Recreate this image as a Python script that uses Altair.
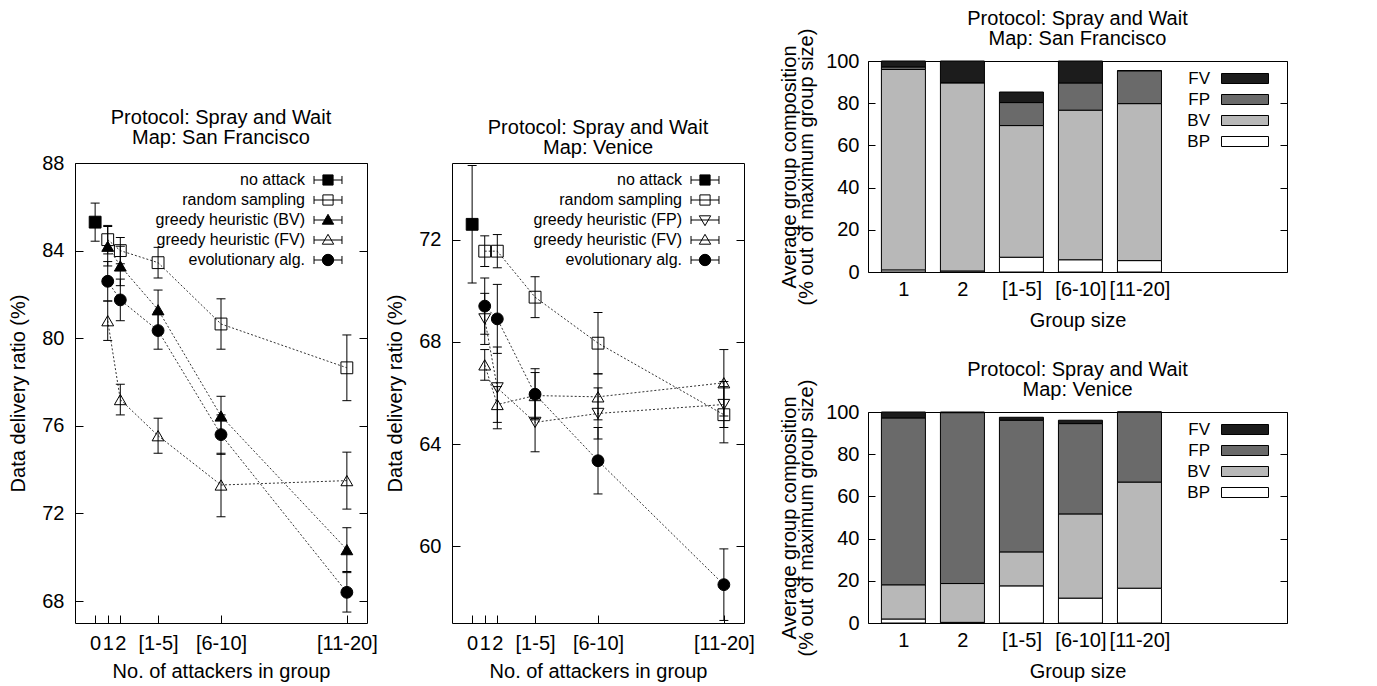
import json
import altair as alt
import pandas as pd

FONT = "Liberation Sans"

# ---------------- line charts: data ----------------
x_pos = [0, 1, 2, 5, 10, 20]
x_labels = ["0", "1", "2", "[1-5]", "[6-10]", "[11-20]"]
no_attack_x = [0]
attack_x = [1, 2, 5, 10, 20]

sf_names = ["no attack", "random sampling", "greedy heuristic (BV)",
            "greedy heuristic (FV)", "evolutionary alg."]
sf_shapes = ["square", "square", "triangle-up", "triangle-up", "circle"]
sf_fills = ["black", "transparent", "black", "transparent", "black"]
sf_no_attack = [85.3]
sf_no_attack_err = [0.87]
sf_random = [84.5, 84.0, 83.45, 80.65, 78.65]
sf_random_err = [0.65, 0.6, 0.7, 1.15, 1.5]
sf_greedy_bv = [84.2, 83.3, 81.3, 76.45, 70.35]
sf_greedy_bv_err = [0.9, 0.9, 0.9, 0.9, 1.0]
sf_greedy_fv = [80.8, 77.2, 75.55, 73.3, 73.5]
sf_greedy_fv_err = [0.9, 0.7, 0.8, 1.45, 1.3]
sf_evo = [82.6, 81.75, 80.35, 75.6, 68.4]
sf_evo_err = [0.9, 0.95, 0.85, 0.9, 0.9]
sf_y_ticks = [68, 72, 76, 80, 84, 88]

ve_names = ["no attack", "random sampling", "greedy heuristic (FP)",
            "greedy heuristic (FV)", "evolutionary alg."]
ve_shapes = ["square", "square", "triangle-down", "triangle-up", "circle"]
ve_fills = ["black", "transparent", "transparent", "transparent", "black"]
ve_no_attack = [72.6]
ve_no_attack_err = [2.3]
ve_random = [71.55, 71.55, 69.75, 67.95, 65.15]
ve_random_err = [0.6, 0.65, 0.8, 1.2, 1.1]
ve_greedy_fp = [68.9, 66.2, 64.85, 65.2, 65.55]
ve_greedy_fp_err = [1.0, 1.6, 1.15, 1.0, 0.9]
ve_greedy_fv = [67.1, 65.55, 65.9, 65.85, 66.4]
ve_greedy_fv_err = [0.6, 0.7, 0.9, 0.9, 1.3]
ve_evo = [69.4, 68.9, 65.95, 63.35, 58.5]
ve_evo_err = [1.1, 1.35, 1.0, 1.3, 1.4]
ve_y_ticks = [60, 64, 68, 72]

# ---------------- bar charts: data ----------------
groups = ["1", "2", "[1-5]", "[6-10]", "[11-20]"]
parts = ["FV", "FP", "BV", "BP"]            # legend order
part_colors = ["#1c1c1c", "#6a6a6a", "#b8b8b8", "#ffffff"]
stack_parts = ["BP", "BV", "FP", "FV"]      # bottom -> top
bar_y_ticks = [0, 20, 40, 60, 80, 100]

sf_bp = [1.0, 0.5, 7.0, 5.8, 5.4]
sf_bv = [95.0, 89.2, 62.4, 70.9, 74.4]
sf_fp = [1.2, 0.0, 10.9, 12.9, 15.6]
sf_fv = [2.8, 10.3, 5.0, 10.4, 0.0]

ve_bp = [1.9, 0.3, 17.6, 11.8, 16.5]
ve_bv = [16.2, 18.4, 16.1, 39.9, 50.3]
ve_fp = [79.1, 81.0, 62.4, 42.8, 33.2]
ve_fv = [2.8, 0.3, 1.4, 1.6, 0.0]


def line_frame(names, xs_list, vals_list, errs_list):
    rows = []
    for name, xs, vals, errs in zip(names, xs_list, vals_list, errs_list):
        for x, v, e in zip(xs, vals, errs):
            rows.append({"series": name, "x": x, "y": v, "lo": v - e, "hi": v + e})
    return pd.DataFrame(rows)


def bar_frame(bp, bv, fp, fv):
    rows = []
    for i, g in enumerate(groups):
        for k, (p, vals) in enumerate(zip(stack_parts, [bp, bv, fp, fv])):
            rows.append({"group": g, "pos": i, "part": p, "ord": k, "value": vals[i]})
    return pd.DataFrame(rows)


ERR_PATH = "M-2.33,0H2.33M-2.33,-0.67V0.67M2.33,-0.67V0.67"
MARK_PATH = {
    "square": "M-0.85,-0.85H0.85V0.85H-0.85Z",
    "triangle-up": "M0,-0.95L0.95,0.7L-0.95,0.7Z",
    "triangle-down": "M0,0.95L0.95,-0.7L-0.95,-0.7Z",
    "circle": "M0.95,0A0.95,0.95,0,1,1,-0.95,0A0.95,0.95,0,1,1,0.95,0Z",
}


def title_params(map_name, offset):
    return alt.TitleParams(["Protocol: Spray and Wait", f"Map: {map_name}"],
                           offset=alt.ExprRef(str(offset)), lineHeight=20, fontSize=20,
                           anchor="middle", frame="group")


def line_panel(df, names, shapes, fills, map_name, ydom, yticks):
    xsc = alt.Scale(domain=[-1.6, 21.6], nice=False, zero=False, padding=0)
    ysc = alt.Scale(domain=ydom, nice=False, zero=False, padding=0)
    x_expr = f"{json.dumps(x_labels)}[indexof({json.dumps(x_pos)}, datum.value)]"
    x_axis = alt.Axis(values=x_pos, labelExpr=x_expr, offset=-8, tickSize=8,
                      labelPadding=10, labelOverlap=False, labelFlush=False,
                      title="No. of attackers in group", titlePadding=8)
    y_left = alt.Axis(values=yticks, offset=-8, tickSize=8, labelPadding=11,
                      title="Data delivery ratio (%)", titlePadding=13)
    y_right = alt.Axis(orient="right", values=yticks, offset=-8, tickSize=8,
                       labels=False, title=None)
    X = alt.X("x:Q", scale=xsc, axis=None)
    Y = alt.Y("y:Q", scale=ysc, axis=None)
    base = alt.Chart(df)

    lines = base.mark_line(strokeDash=[2, 2], strokeWidth=1, color="#333333").encode(
        x=alt.X("x:Q", scale=xsc, axis=x_axis),
        y=alt.Y("y:Q", scale=ysc, axis=y_left),
        detail="series:N",
    )
    rules = base.mark_rule(color="black", strokeWidth=1).encode(
        x=X, y=alt.Y("lo:Q", scale=ysc, axis=y_right), y2="hi:Q"
    )
    caps = base.transform_fold(["lo", "hi"], as_=["end", "v"]).mark_tick(
        orient="horizontal", size=9, thickness=1, color="black", opacity=1
    ).encode(x=X, y=alt.Y("v:Q", scale=ysc, axis=None))

    leg = alt.Legend(orient="none", legendX=245, legendY=9, title=None,
                     labelFontSize=16, labelAlign="right",
                     labelOffset=alt.ExprRef("-31"),
                     labelLimit=300, symbolSize=144, symbolStrokeWidth=1,
                     symbolStrokeColor="black", symbolOpacity=1, rowPadding=4,
                     padding=0)
    # legend-only layer (no data rows reach the marks)
    key = base.transform_filter("false").mark_point(
        filled=True, strokeWidth=1, opacity=1
    ).encode(
        x=X, y=Y,
        shape=alt.Shape("series:N", scale=alt.Scale(
            domain=names, range=[ERR_PATH + MARK_PATH[s] for s in shapes]), legend=leg),
        fill=alt.Fill("series:N", scale=alt.Scale(domain=names, range=fills), legend=leg),
        stroke=alt.Stroke("series:N", scale=alt.Scale(
            domain=names, range=["black"] * len(names)), legend=leg),
    )
    pts = [
        base.transform_filter(alt.datum.series == name).mark_point(
            shape=shp, filled=True, fill=fil, stroke="black", strokeWidth=1,
            size=140, opacity=1
        ).encode(x=X, y=Y)
        for name, shp, fil in zip(names, shapes, fills)
    ]
    return (
        alt.layer(lines, rules, caps, key, *pts)
        .resolve_axis(x="independent", y="independent")
        .properties(width=292, height=460, title=title_params(map_name, 5))
    )


def bar_panel(df, map_name):
    xsc = alt.Scale(domain=[-0.6, 6.5], nice=False, zero=False, padding=0)
    ysc = alt.Scale(domain=[0, 100], nice=False, padding=0)
    x_axis = alt.Axis(values=list(range(len(groups))),
                      labelExpr=f"{json.dumps(groups)}[datum.value]",
                      ticks=False, labelPadding=7, labelOverlap=False, labelFlush=False,
                      title="Group size", titlePadding=11)
    y_left = alt.Axis(values=bar_y_ticks, offset=-7, tickSize=7, labelPadding=9,
                      title=["Average group composition", "(% out of maximum group size)"],
                      titlePadding=9, titleLineHeight=17)
    y_right = alt.Axis(orient="right", values=bar_y_ticks, offset=-7, tickSize=7,
                       labels=False, title=None)
    leg = alt.Legend(orient="none", legendX=366.5, legendY=7, title=None,
                     labelFontSize=17, labelAlign="right",
                     labelOffset=alt.ExprRef("-45.5"),
                     symbolType="M-2.35,-0.5H2.35V0.5H-2.35Z", symbolSize=400,
                     symbolStrokeColor="black", symbolStrokeWidth=1, rowPadding=2,
                     padding=0, labelLimit=100)
    base = alt.Chart(df)
    bars = base.mark_bar(size=44, stroke="black", strokeWidth=1).encode(
        x=alt.X("pos:Q", scale=xsc, axis=x_axis),
        y=alt.Y("value:Q", stack="zero", scale=ysc, axis=y_left),
        color=alt.Color("part:N", scale=alt.Scale(domain=parts, range=part_colors), legend=leg),
        order=alt.Order("ord:Q", sort="ascending"),
    )
    right_axis = base.mark_rule(opacity=0).encode(
        y=alt.Y("value:Q", scale=ysc, axis=y_right)
    )
    return (
        alt.layer(bars, right_axis)
        .resolve_axis(y="independent")
        .properties(width=419, height=211, title=title_params(map_name, -21))
    )


sf_df = line_frame(
    sf_names,
    [no_attack_x, attack_x, attack_x, attack_x, attack_x],
    [sf_no_attack, sf_random, sf_greedy_bv, sf_greedy_fv, sf_evo],
    [sf_no_attack_err, sf_random_err, sf_greedy_bv_err, sf_greedy_fv_err, sf_evo_err],
)
ve_df = line_frame(
    ve_names,
    [no_attack_x, attack_x, attack_x, attack_x, attack_x],
    [ve_no_attack, ve_random, ve_greedy_fp, ve_greedy_fv, ve_evo],
    [ve_no_attack_err, ve_random_err, ve_greedy_fp_err, ve_greedy_fv_err, ve_evo_err],
)

left = line_panel(sf_df, sf_names, sf_shapes, sf_fills, "San Francisco", [67, 88], sf_y_ticks)
middle = line_panel(ve_df, ve_names, ve_shapes, ve_fills, "Venice", [57, 75], ve_y_ticks)

top_bar = bar_panel(bar_frame(sf_bp, sf_bv, sf_fp, sf_fv), "San Francisco")
bot_bar = bar_panel(bar_frame(ve_bp, ve_bv, ve_fp, ve_fv), "Venice")

spacer = alt.Chart(pd.DataFrame({"s": []})).mark_point(opacity=0).properties(
    width=10, height=46, view=alt.ViewBackground(strokeOpacity=0)
)

IND = dict(color="independent", shape="independent", fill="independent",
           stroke="independent")
row_lines = alt.hconcat(left, middle, spacing=7).resolve_scale(**IND)
col1 = alt.vconcat(spacer, row_lines, spacing=0).resolve_scale(**IND)
col2 = alt.vconcat(top_bar, bot_bar, spacing=28).resolve_scale(**IND)

chart = (
    alt.hconcat(col1, col2, spacing=24)
    .resolve_scale(**IND)
    .properties(padding=0, background="white")
    .configure(font=FONT)
    .configure_axis(labelFont=FONT, titleFont=FONT, labelFontSize=20, titleFontSize=20,
                    titleFontWeight="normal", labelColor="black", titleColor="black",
                    tickColor="black", tickWidth=1, grid=False, domain=False)
    .configure_legend(labelFont=FONT, labelColor="black")
    .configure_title(font=FONT, fontSize=20, fontWeight="normal", color="black")
    .configure_view(stroke="black", strokeWidth=1)
)

chart.save("out.html", embed_options={"renderer": "svg", "actions": False})
